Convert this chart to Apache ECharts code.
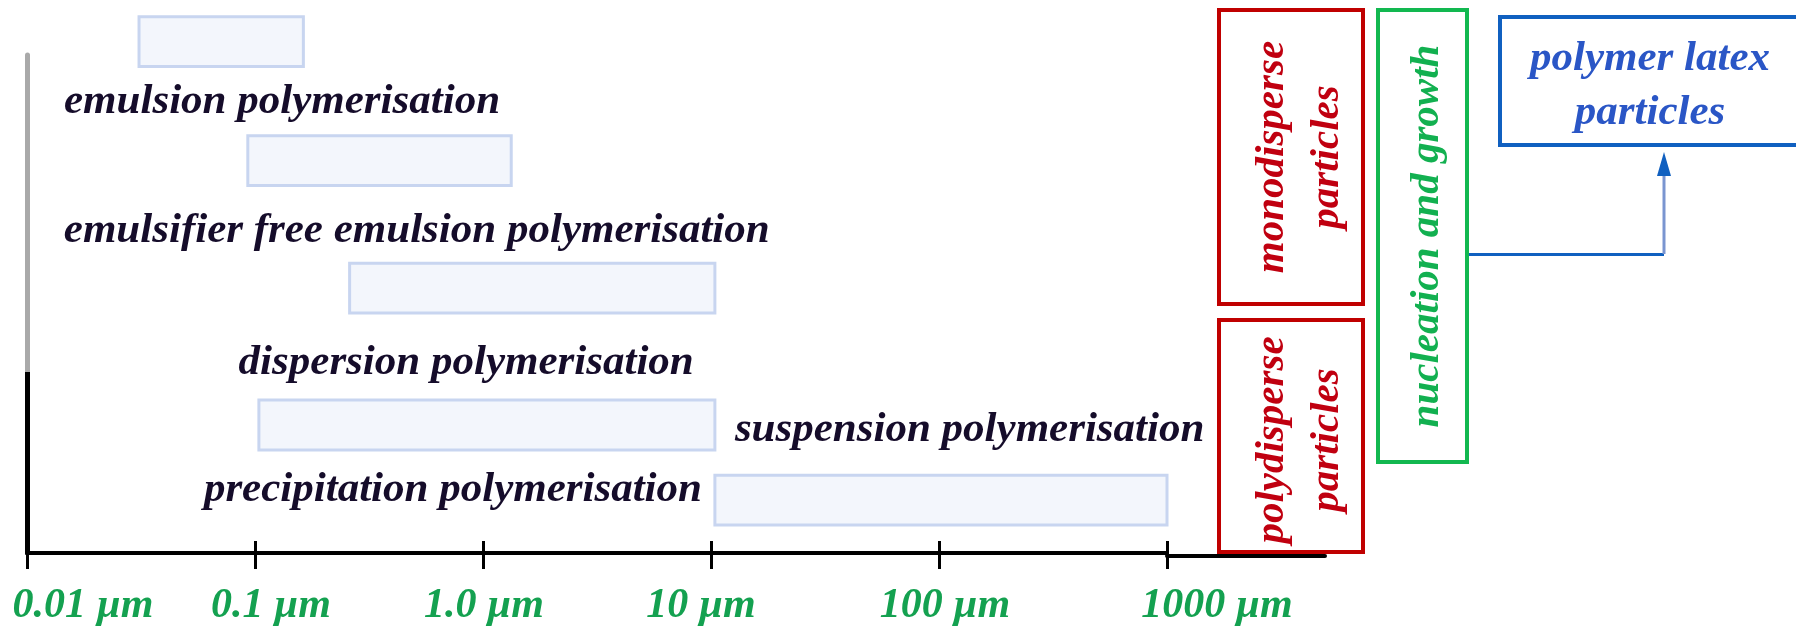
<!DOCTYPE html>
<html>
<head>
<meta charset="utf-8">
<script src="https://cdn.jsdelivr.net/npm/echarts@6/dist/echarts.min.js"></script>
<style>
  html, body { margin: 0; padding: 0; background: #fff; }
  #chart { width: 1796px; height: 638px; }
</style>
</head>
<body>
<div id="chart"></div>
<script>
// particle size ranges (µm) of each polymerisation process
const processes = [
  'emulsion polymerisation',
  'emulsifier free emulsion polymerisation',
  'dispersion polymerisation',
  'precipitation polymerisation',
  'suspension polymerisation'
];
const sizeFrom = [0.031, 0.093, 0.26, 0.104, 10.4];
const sizeTo = [0.163, 1.33, 10.4, 10.4, 1000];
const rowLevel = [10.27, 7.88, 5.32, 2.57, 1.06];
const tickLabels = ['0.01 µm', '0.1 µm', '1.0 µm', '10 µm', '100 µm', '1000 µm'];

// label placement relative to the top-left corner of each bar (px)
const labelOffsets = [[-75, 107], [-184, 117], [-111, 121], [-55, 111], [20, -24]];
// horizontal nudge of each tick label (px)
const tickShift = [56, 16, 1, -10, 6, 50];

const FONT = "'Liberation Serif', 'Times New Roman', serif";
const textColor = '#150c2a';
const green = '#14a150';

const chart = echarts.init(document.getElementById('chart'));

const rich = {};
tickShift.forEach((s, i) => {
  rich['t' + i] = {
    fontFamily: FONT, fontStyle: 'italic', fontWeight: 'bold', fontSize: 42, color: green,
    padding: s >= 0 ? [0, 0, 0, 2 * s] : [0, -2 * s, 0, 0]
  };
});

const option = {
  animation: false,
  grid: [
    { left: 27, right: 629, top: 55, bottom: 85, containLabel: false, outerBoundsMode: 'none' },
    { left: 1167, width: 158, top: 500, bottom: 82, containLabel: false, outerBoundsMode: 'none' }
  ],
  xAxis: [
    {
      type: 'log', logBase: 10, min: 0.01, max: 1000, gridIndex: 0, position: 'bottom',
      axisLine: { show: true, lineStyle: { color: '#000', width: 4 } },
      axisTick: { show: true, inside: true, length: 12, lineStyle: { color: '#000', width: 3 } },
      splitLine: { show: false },
      axisLabel: {
        show: true, margin: 32,
        formatter: (v, i) => '{t' + i + '|' + tickLabels[i] + '}',
        rich: rich
      }
    },
    {
      type: 'log', logBase: 10, min: 0.01, max: 1000, gridIndex: 0, position: 'bottom', offset: 0,
      axisLine: { show: false },
      axisTick: { show: true, inside: false, length: 16, lineStyle: { color: '#000', width: 3 } },
      splitLine: { show: false },
      axisLabel: { show: false }
    },
    {
      type: 'value', gridIndex: 1, min: 0, max: 1, position: 'bottom',
      axisLine: { show: true, lineStyle: { color: '#000', width: 4 } },
      axisTick: { show: false }, axisLabel: { show: false }, splitLine: { show: false }
    }
  ],
  yAxis: [
    {
      type: 'value', min: 0, max: 10, gridIndex: 0,
      axisLine: {
        show: true,
        lineStyle: {
          width: 5,
          color: new echarts.graphic.LinearGradient(0, 1, 0, 0, [
            { offset: 0, color: '#000' },
            { offset: 0.365, color: '#000' },
            { offset: 0.365, color: '#a9a9a9' },
            { offset: 1, color: '#a9a9a9' }
          ])
        }
      },
      axisTick: { show: false }, axisLabel: { show: false }, splitLine: { show: false }
    },
    { type: 'value', gridIndex: 1, show: false }
  ],
  series: [
    {
      type: 'custom',
      xAxisIndex: 0,
      yAxisIndex: 0,
      clip: false,
      data: processes.map((p, i) => [sizeFrom[i], sizeTo[i], rowLevel[i], p]),
      renderItem: function (params, api) {
        const i = params.dataIndex;
        const lvl = api.value(2);
        const a = api.coord([api.value(0), lvl + 0.5]);
        const b = api.coord([api.value(1), lvl - 0.5]);
        const off = labelOffsets[i];
        return {
          type: 'group',
          children: [
            {
              type: 'rect',
              shape: { x: a[0], y: a[1], width: b[0] - a[0], height: b[1] - a[1] },
              style: { fill: '#f3f6fc', stroke: '#c8d5f0', lineWidth: 3 }
            },
            {
              type: 'text',
              x: a[0] + off[0],
              y: a[1] + off[1],
              style: {
                text: processes[i],
                font: 'italic bold 43px ' + FONT,
                fill: textColor,
                align: 'left',
                verticalAlign: 'bottom'
              }
            }
          ]
        };
      }
    }
  ],
  graphic: [
    { type: 'rect', shape: { x: 1219, y: 10, width: 144, height: 294 },
      style: { fill: 'none', stroke: '#c00000', lineWidth: 4 } },
    { type: 'rect', shape: { x: 1219, y: 320, width: 144, height: 232 },
      style: { fill: 'none', stroke: '#c00000', lineWidth: 4 } },
    { type: 'rect', shape: { x: 1378, y: 10, width: 89, height: 452 },
      style: { fill: 'none', stroke: '#12b850', lineWidth: 4 } },
    { type: 'rect', shape: { x: 1500, y: 17, width: 310, height: 128 },
      style: { fill: 'none', stroke: '#1060c0', lineWidth: 4 } },
    { type: 'polyline', shape: { points: [[1469, 254.5], [1664, 254.5]] },
      style: { stroke: '#1060c0', lineWidth: 3, fill: 'none' } },
    { type: 'line', shape: { x1: 1664, y1: 254, x2: 1664, y2: 165 },
      style: { stroke: '#7a95d0', lineWidth: 3 } },
    { type: 'polygon', shape: { points: [[1664, 152], [1657, 176], [1671, 176]] },
      style: { fill: '#1060c0' } },
    { type: 'text', x: 1300, y: 157, rotation: Math.PI / 2,
      style: { text: 'monodisperse\nparticles', font: 'italic bold 41px ' + FONT, fill: '#c00010',
        align: 'center', verticalAlign: 'middle', lineHeight: 55 } },
    { type: 'text', x: 1300, y: 440, rotation: Math.PI / 2,
      style: { text: 'polydisperse\nparticles', font: 'italic bold 41px ' + FONT, fill: '#c00010',
        align: 'center', verticalAlign: 'middle', lineHeight: 55 } },
    { type: 'text', x: 1427, y: 236, rotation: Math.PI / 2,
      style: { text: 'nucleation and growth', font: 'italic bold 41px ' + FONT, fill: '#12b050',
        align: 'center', verticalAlign: 'middle' } },
    { type: 'text', x: 1650, y: 86,
      style: { text: 'polymer latex\nparticles', font: 'italic bold 43px ' + FONT, fill: '#2a56c6',
        align: 'center', verticalAlign: 'middle', lineHeight: 54 } }
  ]
};

chart.setOption(option);
</script>
</body>
</html>
